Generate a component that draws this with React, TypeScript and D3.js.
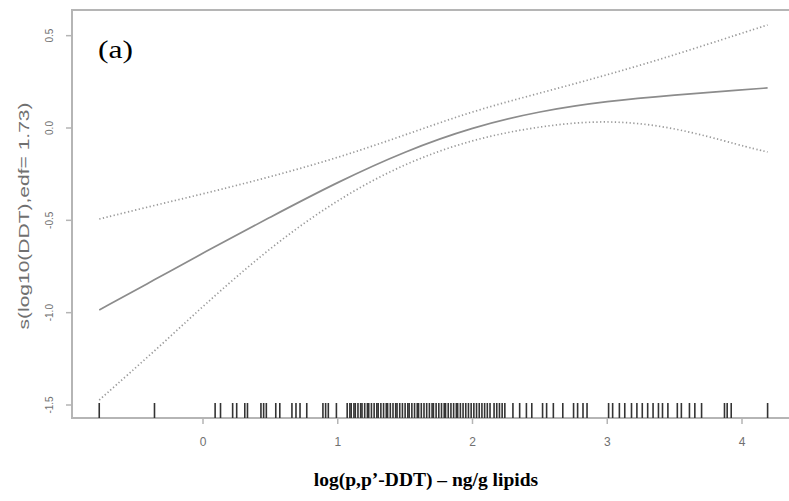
import React from "react";
import * as d3 from "d3";

// x positions (log p,p'-DDT) at which the smooth was read
const gridX = [-0.77, -0.35, 0, 0.5, 1.0, 1.5, 2.0, 2.5, 3.0, 3.5, 4.0, 4.19];
// fitted smooth s(log10(DDT))
const fitY = [-0.985, -0.818, -0.677, -0.482, -0.292, -0.125, 0.005, 0.092, 0.146, 0.179, 0.206, 0.217];
// upper confidence band
const upperY = [-0.493, -0.417, -0.357, -0.265, -0.162, -0.038, 0.092, 0.189, 0.287, 0.395, 0.514, 0.558];
// lower confidence band
const lowerY = [-1.473, -1.202, -0.964, -0.644, -0.384, -0.189, -0.06, 0.011, 0.045, 0.005, -0.097, -0.13];

// rug of observed values
const rugX = [
  -0.77, -0.36, 0.09, 0.13, 0.22, 0.25, 0.31, 0.33, 0.43, 0.45, 0.47, 0.54, 0.57,
  0.66, 0.69, 0.72, 0.77, 0.89, 0.91, 0.93, 0.99,
  1.07, 1.09, 1.1, 1.12, 1.13, 1.15, 1.17, 1.18, 1.2, 1.22, 1.23, 1.25, 1.27, 1.29,
  1.3, 1.32, 1.34, 1.36, 1.37, 1.39, 1.41, 1.43, 1.44, 1.46, 1.48, 1.5, 1.52, 1.53,
  1.55, 1.57, 1.59, 1.6, 1.62, 1.64, 1.66, 1.68, 1.7, 1.71, 1.73, 1.75, 1.77, 1.79,
  1.8, 1.82, 1.84, 1.86, 1.88, 1.89, 1.91, 1.93, 1.95, 1.97, 1.99, 2.01, 2.03, 2.05,
  2.07, 2.09, 2.11, 2.13, 2.16, 2.18, 2.2, 2.22, 2.24,
  2.3, 2.35, 2.4, 2.44, 2.52, 2.55, 2.6, 2.67, 2.75, 2.78, 2.82, 2.85,
  3.01, 3.04, 3.09, 3.13, 3.18, 3.22, 3.26, 3.3, 3.34, 3.38, 3.41, 3.45, 3.52, 3.55,
  3.61, 3.65, 3.7, 3.87, 3.89, 3.92, 4.19,
];

const xTicks = [0, 1, 2, 3, 4];
const xTickLabels = ["0", "1", "2", "3", "4"];
const yTicks = [-1.5, -1.0, -0.5, 0.0, 0.5];
const yTickLabels = ["-1.5", "-1.0", "-0.5", "0.0", "0.5"];

const yTitle = "s(log10(DDT),edf= 1.73)";
const xTitle = "log(p,p\u2019-DDT) \u2013 ng/g lipids";
const panelLabel = "(a)";

export default function App() {
  const W = 789;
  const H = 501;
  const left = 72;
  const top = 10;
  const bottom = 418;
  const right = 792;

  const x = d3.scaleLinear().domain([0, 4]).range([203, 742]);
  const y = d3.scaleLinear().domain([-1.5, 0]).range([405, 128]);

  const mk = (ys: number[]) =>
    d3
      .line<number>()
      .x((_, i) => x(gridX[i]))
      .y((d) => y(d))
      .curve(d3.curveBasis)(ys) || "";

  const axisColor = "#b5b5b5";
  const textGray = "#707070";

  return (
    <svg
      width={W}
      height={H}
      style={{ position: "fixed", left: 0, top: 0, background: "#fff" }}
    >
      <rect x={0} y={0} width={W} height={H} fill="#fff" />
      {/* frame */}
      <rect
        x={left}
        y={top}
        width={right - left}
        height={bottom - top}
        fill="none"
        stroke={axisColor}
        strokeWidth={2}
      />
      {/* y ticks */}
      {yTicks.map((t, i) => (
        <g key={"yt" + i}>
          <line x1={left - 6} x2={left} y1={y(t)} y2={y(t)} stroke={axisColor} strokeWidth={1.5} />
          <text
            transform={`translate(53,${y(t)}) rotate(-90)`}
            textAnchor="middle"
            fontFamily="Liberation Sans, Arial, sans-serif"
            fontSize={10}
            fill={textGray}
          >
            {yTickLabels[i]}
          </text>
        </g>
      ))}
      {/* x ticks */}
      {xTicks.map((t, i) => (
        <g key={"xt" + i}>
          <line x1={x(t)} x2={x(t)} y1={bottom} y2={bottom + 6} stroke={axisColor} strokeWidth={1.5} />
          <text
            x={x(t)}
            y={446}
            textAnchor="middle"
            fontFamily="Liberation Sans, Arial, sans-serif"
            fontSize={12}
            fill={textGray}
          >
            {xTickLabels[i]}
          </text>
        </g>
      ))}
      {/* rug */}
      {rugX.map((v, i) => (
        <line
          key={"r" + i}
          x1={x(v)}
          x2={x(v)}
          y1={bottom - 15}
          y2={bottom}
          stroke="#333"
          strokeWidth={1.6}
        />
      ))}
      {/* confidence bands */}
      <path d={mk(upperY)} fill="none" stroke="#9a9a9a" strokeWidth={1.7} strokeDasharray="1.3 2.4" />
      <path d={mk(lowerY)} fill="none" stroke="#9a9a9a" strokeWidth={1.7} strokeDasharray="1.3 2.4" />
      {/* fit */}
      <path d={mk(fitY)} fill="none" stroke="#8c8c8c" strokeWidth={1.7} />
      {/* y title */}
      <text
        transform={`translate(29,216) rotate(-90)`}
        textAnchor="middle"
        fontFamily="Liberation Sans, Arial, sans-serif"
        fontSize={15}
        fill={textGray}
        textLength={227}
        lengthAdjust="spacingAndGlyphs"
      >
        {yTitle}
      </text>
      {/* panel label */}
      <text
        x={98}
        y={58}
        fontFamily="Liberation Serif, Times New Roman, serif"
        fontSize={25}
        fill="#000"
        textLength={35}
        lengthAdjust="spacingAndGlyphs"
      >
        {panelLabel}
      </text>
      {/* x title */}
      <text
        x={426}
        y={486}
        textAnchor="middle"
        fontFamily="Liberation Serif, Times New Roman, serif"
        fontWeight="bold"
        fontSize={19.5}
        fill="#000"
      >
        {xTitle}
      </text>
    </svg>
  );
}
